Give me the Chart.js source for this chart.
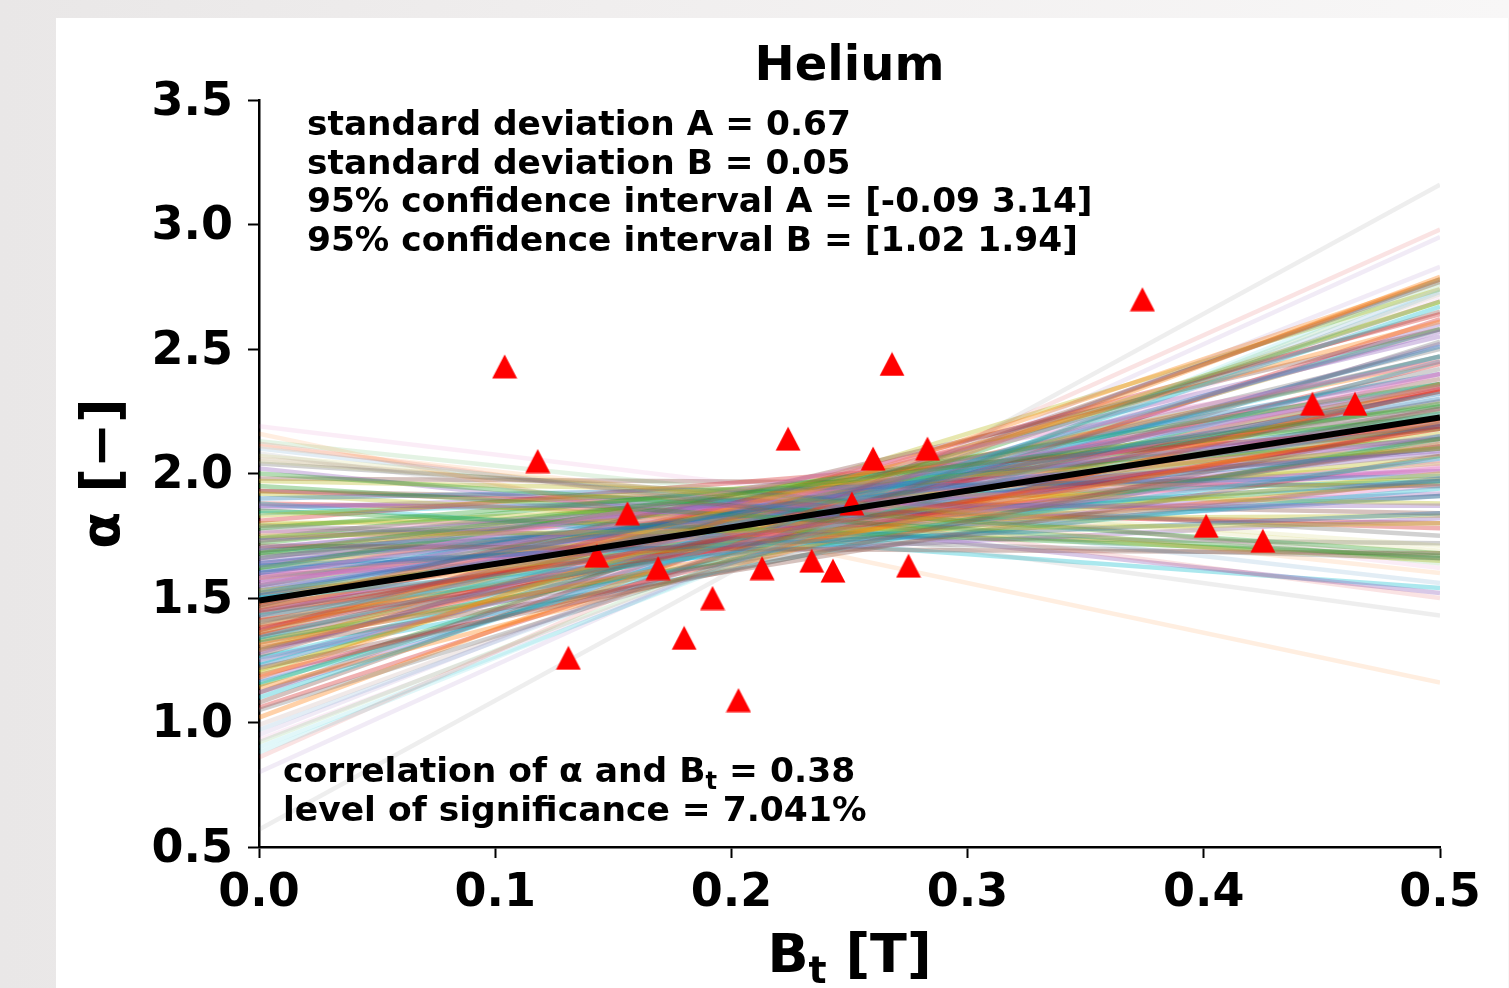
<!DOCTYPE html>
<html>
<head>
<meta charset="utf-8">
<title>Helium</title>
<script src="https://cdn.jsdelivr.net/npm/chart.js"></script>
<style>
  html, body { margin: 0; padding: 0; width: 1509px; height: 988px; overflow: hidden; }
  body { background: linear-gradient(90deg, #e9e7e7 0%, #f0eeee 40%, #f8f7f7 100%); }
  #panel { position: absolute; left: 56px; top: 18px; width: 1452px; height: 970px; background: #fff; }
  #chart { display: block; }
</style>
</head>
<body>
<div id="panel"><canvas id="chart" width="1452" height="970"></canvas></div>
<script>
const FAMILY = '"DejaVu Sans", "Liberation Sans", sans-serif';

// measured points (B_t, alpha)
const bt = [0.104, 0.118, 0.131, 0.143, 0.156, 0.169, 0.180, 0.192, 0.203, 0.213, 0.224, 0.234,
  0.243, 0.251, 0.260, 0.268, 0.275, 0.283, 0.374, 0.401, 0.425, 0.446, 0.464];
const alpha = [2.43, 2.05, 1.26, 1.67, 1.84, 1.62, 1.34, 1.50, 1.09, 1.62, 2.14, 1.65,
  1.61, 1.88, 2.06, 2.44, 1.63, 2.10, 2.70, 1.79, 1.73, 2.28, 2.28];

// fitted line, value at B_t = 0 and B_t = 0.5
const lineX = [0, 0.5];
const fitStart = 1.49;
const fitEnd = 2.225;

// bootstrap lines: value at B_t = 0 and at B_t = 0.5
const bootStart = [1.52, 1.31, 1.68, 1.45, 1.87, 1.22, 1.58, 1.40, 1.75, 1.10,
  1.63, 1.36, 1.95, 1.49, 1.28, 1.71, 1.55, 1.05, 1.83, 1.43,
  1.60, 1.18, 2.00, 1.38, 1.66, 1.47, 1.25, 1.79, 1.53, 1.34,
  1.90, 1.14, 1.62, 1.42, 1.73, 1.30, 1.57, 2.04, 1.20, 1.50,
  1.69, 1.02, 1.85, 1.37, 1.59, 1.27, 1.76, 1.44, 1.97, 1.16,
  1.64, 1.48, 1.33, 1.81, 1.54, 1.08, 1.70, 1.41, 1.92, 1.24,
  1.61, 1.46, 1.78, 1.35, 2.02, 1.12, 1.56, 1.67, 1.29, 1.88,
  1.51, 1.39, 1.74, 1.19, 1.65, 1.98, 1.45, 1.32, 1.58, 1.84,
  1.23, 1.52, 1.72, 1.06, 1.43, 1.93, 1.60, 1.37, 1.80, 1.26,
  1.55, 1.69, 1.15, 1.47, 1.86, 1.34, 1.63, 1.77, 1.21, 1.50,
  1.53, 1.41, 1.66, 1.29, 1.74, 1.48, 1.58, 1.36, 1.62, 1.45,
  1.70, 1.32, 1.55, 1.88, 1.12, 1.51, 1.64, 1.39, 1.79, 1.26,
  1.57, 1.44, 1.68, 1.93, 1.17, 1.49, 1.60, 1.35, 1.73, 1.46];
const bootEnd = [2.32, 2.21, 2.27, 2.18, 1.87, 2.20, 2.45, 2.47, 1.80, 2.67,
  1.84, 2.61, 1.66, 2.22, 2.57, 1.68, 2.35, 2.53, 2.10, 2.06,
  2.19, 2.78, 1.68, 2.19, 2.21, 2.58, 2.40, 1.66, 2.00, 2.47,
  1.99, 2.36, 2.36, 2.34, 2.09, 2.07, 2.03, 1.75, 2.69, 1.94,
  1.97, 2.79, 1.67, 2.64, 1.82, 2.65, 2.01, 2.11, 1.88, 2.45,
  2.10, 2.45, 2.14, 2.19, 2.15, 2.78, 2.14, 1.98, 1.65, 2.58,
  1.91, 2.35, 2.14, 2.33, 1.52, 2.77, 2.20, 1.91, 2.74, 1.54,
  2.36, 2.22, 2.23, 2.34, 2.08, 1.95, 2.40, 2.13, 2.07, 1.97,
  2.51, 1.97, 2.18, 2.62, 2.55, 1.84, 1.95, 2.47, 1.83, 2.15,
  2.40, 2.10, 2.69, 2.11, 2.01, 2.26, 2.26, 1.72, 2.58, 2.22,
  2.30, 2.12, 2.25, 2.44, 1.92, 2.38, 2.05, 2.50, 2.16, 2.20,
  2.10, 2.33, 2.28, 1.80, 2.60, 2.14, 2.02, 2.42, 1.98, 2.36,
  2.24, 2.18, 1.96, 1.78, 2.52, 2.29, 2.22, 2.27, 2.04, 2.35];

// sparse outer bootstrap lines
const edgeStart = [2.10, 2.16, 0.92, 0.86, 0.80, 2.06, 2.19, 0.57, 2.07, 0.88,
  0.97, 2.11, 2.13, 2.12, 0.95, 0.99, 0.93, 2.08, 2.05, 0.90];
const edgeEnd = [1.56, 1.16, 2.76, 2.98, 2.95, 1.66, 1.62, 3.16, 1.69, 2.78,
  2.74, 1.60, 1.64, 1.50, 2.83, 2.72, 2.70, 1.43, 1.71, 2.73];

const xTicks = [0, 0.1, 0.2, 0.3, 0.4, 0.5];
const xTickLabels = ['0.0', '0.1', '0.2', '0.3', '0.4', '0.5'];
const yTicks = [0.5, 1.0, 1.5, 2.0, 2.5, 3.0, 3.5];
const yTickLabels = ['0.5', '1.0', '1.5', '2.0', '2.5', '3.0', '3.5'];

const titleText = 'Helium';
const statsLines = [
  'standard deviation A = 0.67',
  'standard deviation B = 0.05',
  '95% confidence interval A = [-0.09 3.14]',
  '95% confidence interval B = [1.02 1.94]'
];
const corrParts = [['correlation of α and B', false], ['t', true], [' = 0.38', false]];
const signifText = 'level of significance = 7.041%';
const xLabelParts = [['B', false], ['t', true], [' [T]', false]];
const yLabelText = 'α [−]';

// matplotlib tab10 colours
const tab10 = ['31,119,180', '255,127,14', '44,160,44', '214,39,40', '148,103,189',
  '140,86,75', '227,119,194', '127,127,127', '188,189,34', '23,190,207'];

// matplotlib style '^' marker
const tri = document.createElement('canvas');
tri.width = 26;
tri.height = 25;
{
  const c = tri.getContext('2d');
  c.fillStyle = '#ff0000';
  c.beginPath();
  c.moveTo(13, 0.5);
  c.lineTo(25.5, 24.5);
  c.lineTo(0.5, 24.5);
  c.closePath();
  c.fill();
}

const datasets = [];
// fit line sits on top of the markers, markers on top of the bootstrap lines
datasets.push({
  label: 'fit',
  data: [{ x: lineX[0], y: fitStart }, { x: lineX[1], y: fitEnd }],
  showLine: true,
  borderColor: '#000',
  borderWidth: 6,
  pointRadius: 0,
  order: 0
});
datasets.push({
  label: 'data',
  data: bt.map((x, i) => ({ x: x, y: alpha[i] })),
  pointStyle: tri,
  order: 1
});
edgeStart.forEach((s, i) => {
  datasets.push({
    data: [{ x: lineX[0], y: s }, { x: lineX[1], y: edgeEnd[i] }],
    showLine: true,
    borderColor: `rgba(${tab10[i % 10]},0.13)`,
    borderWidth: 4.5,
    pointRadius: 0,
    order: 2
  });
});
bootStart.forEach((s, i) => {
  datasets.push({
    data: [{ x: lineX[0], y: s }, { x: lineX[1], y: bootEnd[i] }],
    showLine: true,
    borderColor: `rgba(${tab10[i % 10]},0.36)`,
    borderWidth: 4.5,
    pointRadius: 0,
    order: 3
  });
});

// draws a run of text pieces, some of them as subscripts
function drawParts(ctx, parts, x, y, size, align) {
  const sub = size * 0.7;
  const widths = parts.map(([t, isSub]) => {
    ctx.font = `bold ${isSub ? sub : size}px ${FAMILY}`;
    return ctx.measureText(t).width;
  });
  const total = widths.reduce((a, b) => a + b, 0);
  let cx = align === 'center' ? x - total / 2 : x;
  ctx.textAlign = 'left';
  parts.forEach(([t, isSub], i) => {
    ctx.font = `bold ${isSub ? sub : size}px ${FAMILY}`;
    ctx.fillText(t, cx, isSub ? y + size * 0.2 : y);
    cx += widths[i];
  });
}

const textPlugin = {
  id: 'texts',
  afterDraw(chart) {
    const { ctx, chartArea: ca } = chart;
    ctx.save();
    ctx.fillStyle = '#000';
    ctx.textBaseline = 'alphabetic';

    ctx.font = `bold 48px ${FAMILY}`;
    ctx.textAlign = 'center';
    ctx.fillText(titleText, (ca.left + ca.right) / 2, ca.top - 20);

    ctx.font = `bold 34.4px ${FAMILY}`;
    ctx.textAlign = 'left';
    statsLines.forEach((t, i) => ctx.fillText(t, ca.left + 48, ca.top + 35 + i * 38.7));

    drawParts(ctx, corrParts, ca.left + 24, ca.bottom - 65, 34.5, 'left');
    ctx.font = `bold 34.5px ${FAMILY}`;
    ctx.fillText(signifText, ca.left + 24, ca.bottom - 26);

    drawParts(ctx, xLabelParts, (ca.left + ca.right) / 2, ca.bottom + 125, 54, 'center');

    ctx.translate(49, (ca.top + ca.bottom) / 2);
    ctx.rotate(-Math.PI / 2);
    ctx.font = `bold 54px ${FAMILY}`;
    ctx.textAlign = 'center';
    ctx.textBaseline = 'middle';
    ctx.fillText(yLabelText, 0, 0);
    ctx.restore();
  }
};

const tickFont = { family: FAMILY, size: 46, weight: 'bold' };

new Chart(document.getElementById('chart'), {
  type: 'scatter',
  data: { datasets: datasets },
  plugins: [textPlugin],
  options: {
    responsive: false,
    devicePixelRatio: 1,
    animation: false,
    events: [],
    layout: { padding: { left: 0, top: 82, right: 68, bottom: 0 } },
    plugins: { legend: { display: false }, tooltip: { enabled: false }, title: { display: false } },
    scales: {
      x: {
        type: 'linear',
        min: 0,
        max: 0.5,
        afterBuildTicks: (s) => { s.ticks = xTicks.map(v => ({ value: v })); },
        afterFit: (s) => { s.height = 141; },
        ticks: {
          callback: (v, i) => xTickLabels[i],
          font: tickFont,
          color: '#000',
          padding: 8,
          maxRotation: 0,
          autoSkip: false
        },
        grid: { drawOnChartArea: false, tickLength: 11, tickWidth: 2, tickColor: '#000' },
        border: { color: '#000', width: 2.5 }
      },
      y: {
        type: 'linear',
        min: 0.5,
        max: 3.5,
        afterBuildTicks: (s) => { s.ticks = yTicks.map(v => ({ value: v })); },
        afterFit: (s) => { s.width = 203; },
        ticks: {
          callback: (v, i) => yTickLabels[i],
          font: tickFont,
          color: '#000',
          padding: 15,
          labelOffset: 3,
          autoSkip: false
        },
        grid: { drawOnChartArea: false, tickLength: 11, tickWidth: 2, tickColor: '#000' },
        border: { color: '#000', width: 2.5 }
      }
    }
  }
});
</script>
</body>
</html>
